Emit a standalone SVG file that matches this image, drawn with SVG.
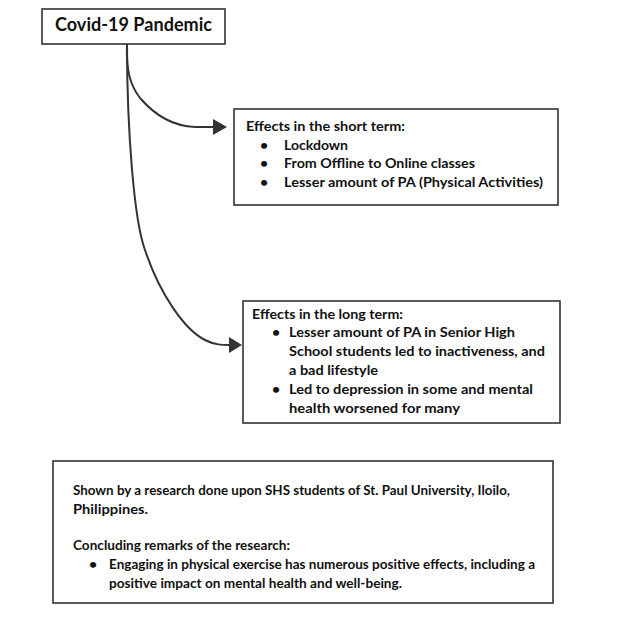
<svg xmlns="http://www.w3.org/2000/svg" width="627" height="626" viewBox="0 0 627 626">
<style>
.box{fill:#fff;stroke:#333;stroke-width:1.6}
.t{font-family:Lato,"Open Sans","Liberation Sans",sans-serif;font-weight:bold;font-size:14px;fill:#111}
.title{font-size:18px}
.con{fill:none;stroke:#333;stroke-width:2;stroke-linecap:round}
</style>
<rect width="627" height="626" fill="#fff"/>
<g id="connectors">
<path class="con" d="M127,44 C126,70 130,85 140,98 C152,112 170,126 195,127 L214,127"/>
<path d="M213,119 L227,127 L213,135 Z" fill="#333"/>
<path class="con" d="M127,44 C127,130 134,220 145,250 C160,295 185,330 205,340 C215,345 222,345 230,345"/>
<path d="M229,337 L242,345 L229,353 Z" fill="#333"/>
</g>
<g id="pandemic">
<rect class="box" x="42" y="9" width="183" height="35"/>
<text class="t title" x="55" y="31" textLength="157" lengthAdjust="spacingAndGlyphs">Covid-19 Pandemic</text>
</g>
<g id="short-term">
<rect class="box" x="234" y="109" width="324" height="96"/>
<text class="t" x="246" y="131" textLength="159" lengthAdjust="spacingAndGlyphs">Effects in the short term:</text>
<text class="t" x="260" y="150">•</text>
<text class="t" x="284" y="150" textLength="64" lengthAdjust="spacingAndGlyphs">Lockdown</text>
<text class="t" x="260" y="168">•</text>
<text class="t" x="284" y="168" textLength="191" lengthAdjust="spacingAndGlyphs">From Offline to Online classes</text>
<text class="t" x="260" y="187">•</text>
<text class="t" x="284" y="187" textLength="259" lengthAdjust="spacingAndGlyphs">Lesser amount of PA (Physical Activities)</text>
</g>
<g id="long-term">
<rect class="box" x="243" y="301" width="317" height="122"/>
<text class="t" x="252" y="319" textLength="151" lengthAdjust="spacingAndGlyphs">Effects in the long term:</text>
<text class="t" x="272" y="337">•</text>
<text class="t" x="289" y="337" textLength="226" lengthAdjust="spacingAndGlyphs">Lesser amount of PA in Senior High</text>
<text class="t" x="289" y="356" textLength="256" lengthAdjust="spacingAndGlyphs">School students led to inactiveness, and</text>
<text class="t" x="289" y="375" textLength="89" lengthAdjust="spacingAndGlyphs">a bad lifestyle</text>
<text class="t" x="272" y="394">•</text>
<text class="t" x="289" y="394" textLength="244" lengthAdjust="spacingAndGlyphs">Led to depression in some and mental</text>
<text class="t" x="289" y="413" textLength="171" lengthAdjust="spacingAndGlyphs">health worsened for many</text>
</g>
<g id="research">
<rect class="box" x="53" y="461" width="500" height="142"/>
<text class="t" x="73" y="495" textLength="437" lengthAdjust="spacingAndGlyphs">Shown by a research done upon SHS students of St. Paul University, Iloilo,</text>
<text class="t" x="73" y="514" textLength="75" lengthAdjust="spacingAndGlyphs">Philippines.</text>
<text class="t" x="73" y="550" textLength="217" lengthAdjust="spacingAndGlyphs">Concluding remarks of the research:</text>
<text class="t" x="89" y="569">•</text>
<text class="t" x="109" y="569" textLength="426" lengthAdjust="spacingAndGlyphs">Engaging in physical exercise has numerous positive effects, including a</text>
<text class="t" x="109" y="588" textLength="293" lengthAdjust="spacingAndGlyphs">positive impact on mental health and well-being.</text>
</g>
</svg>
